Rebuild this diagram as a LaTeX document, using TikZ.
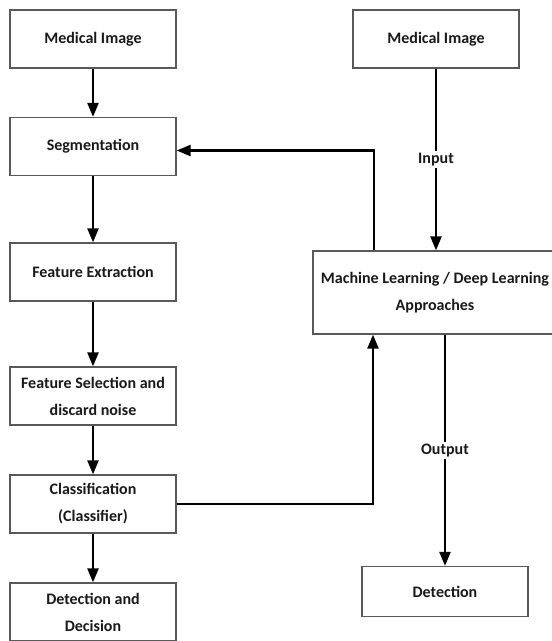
\documentclass[tikz,border=0pt]{standalone}
\usepackage{fontspec}
\setmainfont{Carlito}
\usetikzlibrary{arrows.meta}
\begin{document}
\begin{tikzpicture}[x=1pt,y=-1pt,
        box/.style={draw=black!65,line width=1.3pt,fill=white,minimum width=166pt,
            minimum height=58pt,inner sep=0pt,align=center,text=black!90,
            font=\bfseries\fontsize{16}{27}\selectfont},
        flow/.style={line width=2.5pt,-{Triangle[length=14pt,width=11pt]}},
        lbl/.style={fill=white,inner sep=2pt,text=black!90,
            font=\bfseries\fontsize{16}{19}\selectfont}]
            \useasboundingbox (0,0) rectangle (552,641);

            % left column
            \node[box] (med1) at (93,39) {Medical Image};
            \node[box] (seg) at (93,146.5) {Segmentation};
            \node[box] (feat) at (93,272) {Feature Extraction};
            \node[box] (sel) at (93,396) {Feature Selection and\\discard noise};
            \node[box] (cls) at (93,504) {Classification\\(Classifier)};
            \node[box] (dec) at (93,612) {Detection and\\Decision};

            % right column
            \node[box] (med2) at (436,39) {Medical Image};
            \node[box,minimum width=244pt,minimum height=83pt] (ml) at (435,292.5)
                {Machine Learning / Deep Learning\\Approaches};
            \node[box,minimum height=50pt] (det) at (445,591.5) {Detection};

            \foreach \a/\b in {med1/seg,seg/feat,feat/sel,sel/cls,cls/dec}
                {\draw[flow] (\a) -- (\b);}

            \draw[flow] (med2) -- (med2 |- ml.north) node[lbl,pos=0.5] {Input};
            \draw[flow] (det |- ml.south) -- (det) node[lbl,pos=0.5] {Output};
            \draw[flow] ([xshift=-61pt]ml.north) |- ([yshift=-4pt]seg.east);
            \draw[flow] (cls.east) -| ([xshift=-62pt]ml.south);
        \end{tikzpicture}
\end{document}
